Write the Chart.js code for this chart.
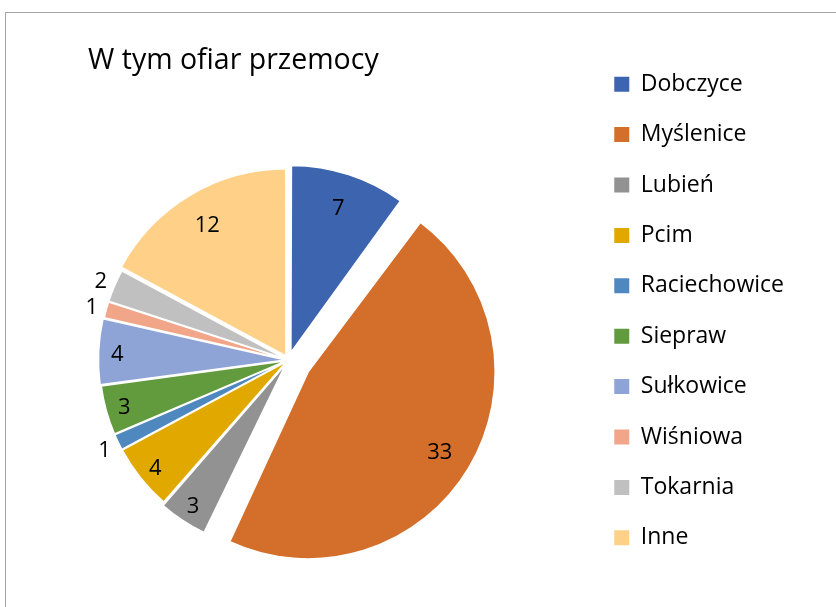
<!DOCTYPE html>
<html>
<head>
<meta charset="utf-8">
<script src="https://cdn.jsdelivr.net/npm/chart.js@4.4.1/dist/chart.umd.min.js"></script>
<style>
  html, body { margin: 0; background: #fff; overflow: hidden; }
  #frame { position: absolute; left: 5px; top: 12px; width: 900px; height: 700px; border: 1px solid #a6a6a6; }
  canvas { position: absolute; left: 0; top: 0; }
</style>
</head>
<body>
<div id="frame"></div>
<canvas id="pie" width="836" height="607"></canvas>
<script>
const labels = ['Dobczyce', 'Myślenice', 'Lubień', 'Pcim', 'Raciechowice', 'Siepraw', 'Sułkowice', 'Wiśniowa', 'Tokarnia', 'Inne'];
const values = [7, 33, 3, 4, 1, 3, 4, 1, 2, 12];
const colors = ['#3d64ae', '#d36e2b', '#929292', '#e1a900', '#4e88bf', '#629a3e', '#8ea4d6', '#f1a68a', '#c0c0c0', '#ffd087'];
// how far each slice is pulled out of the pie, in px
const explode = [8, 23, 5, 2, 2, 2, 3, 2, 2, 5];

// pie sits left of the middle of the plot area, like in the Excel sheet
const shiftLeft = 49;

// Excel slides an exploded slice out without making it bigger; Chart.js also grows
// the radius a bit (offset * fix), so take that back before drawing
const ArcEl = Chart.elements ? Chart.elements.ArcElement : Chart.ArcElement;
const arcDraw = ArcEl.prototype.draw;
ArcEl.prototype.draw = function (ctx) {
  const grow = (this.options.offset || 0) / 4 * (1 - Math.sin(Math.min(Math.PI, this.circumference || 0)));
  this.outerRadius -= grow;
  arcDraw.call(this, ctx);
  this.outerRadius += grow;
};

const pieShift = {
  id: 'pieShift',
  afterLayout(chart) {
    chart.chartArea.left -= shiftLeft;
    chart.chartArea.right -= shiftLeft;
  }
};

// value labels: inside the slice, small ones just outside
const valueLabels = {
  id: 'valueLabels',
  afterDatasetsDraw(chart) {
    const ctx = chart.ctx;
    const meta = chart.getDatasetMeta(0);
    ctx.save();
    ctx.font = '22px "Open Sans"';
    ctx.fillStyle = '#000';
    ctx.textAlign = 'center';
    ctx.textBaseline = 'middle';
    meta.data.forEach((arc, i) => {
      const p = arc.getProps(['x', 'y', 'startAngle', 'endAngle', 'outerRadius'], true);
      const mid = (p.startAngle + p.endAngle) / 2;
      const size = p.endAngle - p.startAngle;
      let dist;
      if (size < 0.2) {
        dist = p.outerRadius + 15;
      } else if (size < 0.4) {
        dist = p.outerRadius * 0.9;
      } else {
        dist = p.outerRadius * 0.82;
      }
      dist += (arc.options.offset || 0) / 4;
      ctx.fillText(values[i], p.x + Math.cos(mid) * dist, p.y + Math.sin(mid) * dist + 2);
    });
    ctx.restore();
  }
};

const pieLegendLabels = (Chart.overrides.pie || Chart.overrides.doughnut).plugins.legend.labels.generateLabels;

const data = {
  labels: labels,
  datasets: [{
    data: values,
    backgroundColor: colors,
    borderColor: '#ffffff',
    borderWidth: 1.5,
    offset: explode.map(px => px * 4),
    radius: 187
  }]
};

const config = {
  type: 'pie',
  data,
  options: {
    responsive: false,
    animation: false,
    devicePixelRatio: 1,
    layout: { padding: { left: 88, right: 42, top: 15, bottom: 0 } },
    plugins: {
      title: {
        display: true,
        text: 'W tym ofiar przemocy',
        align: 'start',
        color: '#000',
        font: { family: 'Open Sans', size: 28.5, weight: 'normal' },
        padding: { top: 29, bottom: 35 }
      },
      legend: {
        position: 'right',
        labels: {
          boxWidth: 15,
          boxHeight: 15,
          padding: 27.4,
          color: '#000',
          font: { family: 'Open Sans', size: 23 },
          generateLabels(chart) {
            return pieLegendLabels(chart).map(item => Object.assign(item, { lineWidth: 0 }));
          }
        }
      },
      tooltip: { enabled: false }
    }
  },
  plugins: [pieShift, valueLabels]
};

const myChart = new Chart(document.getElementById('pie'), config);
</script>
</body>
</html>
